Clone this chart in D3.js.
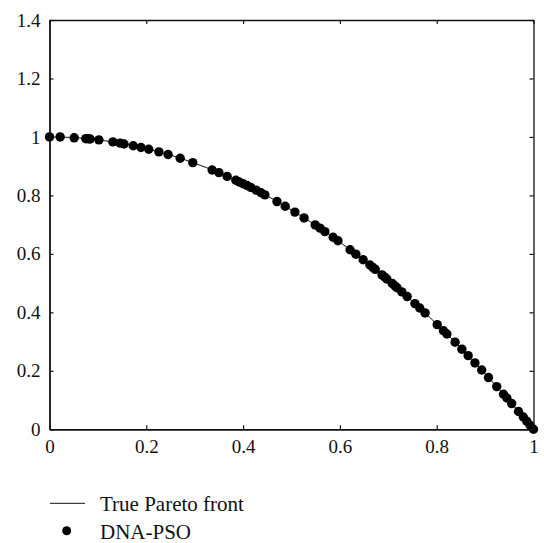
<!DOCTYPE html>
<html><head><meta charset="utf-8">
<script src="https://cdn.jsdelivr.net/npm/d3@7"></script>
<style>body{margin:0;background:#fff}svg{display:block}svg text{font-family:'Liberation Serif','Times New Roman','DejaVu Serif',serif !important;fill:#111}</style>
</head><body>
<svg id="c" width="544" height="543"></svg>
<script>
const xTicks = [0, 0.2, 0.4, 0.6, 0.8, 1];
const yTicks = [0, 0.2, 0.4, 0.6, 0.8, 1, 1.2, 1.4];
const xTickLabels = ["0", "0.2", "0.4", "0.6", "0.8", "1"];
const yTickLabels = ["0", "0.2", "0.4", "0.6", "0.8", "1", "1.2", "1.4"];
const legendLabels = ["True Pareto front", "DNA-PSO"];

// True Pareto front
const frontX = [0, 0.05, 0.1, 0.15, 0.2, 0.25, 0.3, 0.35, 0.4, 0.45, 0.5, 0.55, 0.6, 0.65, 0.7, 0.75, 0.8, 0.85, 0.9, 0.95, 1];
const frontY = [1, 0.998, 0.99, 0.978, 0.96, 0.938, 0.91, 0.878, 0.84, 0.798, 0.75, 0.698, 0.64, 0.578, 0.51, 0.438, 0.36, 0.278, 0.19, 0.098, 0];

// DNA-PSO points
const psoX = [0.000, 0.022, 0.051, 0.075, 0.080, 0.084, 0.102, 0.131, 0.146, 0.154, 0.173, 0.189, 0.205, 0.226, 0.245, 0.270, 0.296, 0.336, 0.350, 0.367, 0.385, 0.392, 0.400, 0.408, 0.416, 0.427, 0.437, 0.445, 0.470, 0.487, 0.507, 0.526, 0.549, 0.559, 0.569, 0.586, 0.596, 0.621, 0.633, 0.648, 0.662, 0.668, 0.673, 0.687, 0.693, 0.697, 0.708, 0.714, 0.718, 0.728, 0.739, 0.755, 0.765, 0.776, 0.801, 0.814, 0.821, 0.838, 0.852, 0.865, 0.879, 0.893, 0.907, 0.924, 0.938, 0.945, 0.955, 0.969, 0.979, 0.986, 0.993, 1.000];
const psoY = [1.000, 1.000, 0.997, 0.994, 0.994, 0.993, 0.990, 0.983, 0.979, 0.976, 0.970, 0.964, 0.958, 0.949, 0.940, 0.927, 0.912, 0.887, 0.878, 0.865, 0.852, 0.846, 0.840, 0.834, 0.827, 0.818, 0.809, 0.802, 0.779, 0.763, 0.743, 0.723, 0.699, 0.688, 0.676, 0.657, 0.645, 0.614, 0.599, 0.580, 0.562, 0.554, 0.547, 0.528, 0.520, 0.514, 0.499, 0.490, 0.484, 0.470, 0.454, 0.430, 0.415, 0.398, 0.358, 0.337, 0.326, 0.298, 0.274, 0.252, 0.227, 0.203, 0.177, 0.146, 0.120, 0.107, 0.088, 0.061, 0.042, 0.028, 0.014, 0.000];

const L = 49.5, R = 533.5, T = 20, B = 429.3;
const FONT = "'Liberation Serif','Times New Roman','DejaVu Serif',serif";
const svg = d3.select("#c");
const x = d3.scaleLinear().domain([0, 1]).range([L, R]);
const y = d3.scaleLinear().domain([0, 1.4]).range([B, T]);

// front line
svg.append("path")
  .datum(frontX.map((v, i) => [v, frontY[i]]))
  .attr("fill", "none").attr("stroke", "#111").attr("stroke-width", 1)
  .attr("d", d3.line().x(d => x(d[0])).y(d => y(d[1])).curve(d3.curveMonotoneX));

// points
svg.append("g").selectAll("circle")
  .data(psoX.map((v, i) => [v, psoY[i]]))
  .join("circle")
  .attr("cx", d => x(d[0])).attr("cy", d => y(d[1])).attr("r", 4.7).attr("fill", "#000");

// axes (inward ticks on all sides)
const fmtX = (d, i) => xTickLabels[i];
const fmtY = (d, i) => yTickLabels[i];
const gB = svg.append("g").attr("transform", `translate(0,${B})`)
  .call(d3.axisBottom(x).tickValues(xTicks).tickFormat(fmtX).tickSizeInner(-4).tickSizeOuter(0).tickPadding(11));
const gL = svg.append("g").attr("transform", `translate(${L},0)`)
  .call(d3.axisLeft(y).tickValues(yTicks).tickFormat(fmtY).tickSizeInner(-4).tickSizeOuter(0).tickPadding(9));
const gT = svg.append("g").attr("transform", `translate(0,${T})`)
  .call(d3.axisTop(x).tickValues(xTicks).tickFormat("").tickSizeInner(-4).tickSizeOuter(0));
const gR = svg.append("g").attr("transform", `translate(${R},0)`)
  .call(d3.axisRight(y).tickValues(yTicks).tickFormat("").tickSizeInner(-4).tickSizeOuter(0));
[gB, gL].forEach(g => { g.select(".domain").attr("stroke", "#111").attr("stroke-width", 1.8); });
[gT, gR].forEach(g => { g.select(".domain").attr("stroke", "#111").attr("stroke-width", 1.3); });
[gB, gL, gT, gR].forEach(g => {
  g.attr("font-family", FONT).attr("font-size", 19);
  g.selectAll(".tick line").attr("stroke", "#111").attr("stroke-width", 1.2);
  g.selectAll("text").attr("font-family", FONT).attr("font-size", 19).attr("fill", "#111");
});
gB.selectAll(".tick text").attr("dy", "0.68em");

// legend
const lg = svg.append("g").attr("font-family", FONT);
lg.append("line").attr("x1", 50).attr("x2", 85).attr("y1", 503.3).attr("y2", 503.3).attr("stroke", "#111").attr("stroke-width", 1);
lg.append("circle").attr("cx", 66.7).attr("cy", 530.7).attr("r", 4.5).attr("fill", "#000");
lg.selectAll("text").data(legendLabels).join("text")
  .attr("x", 100).attr("y", (d, i) => 510.7 + i * 28.6)
  .attr("font-family", FONT).attr("font-size", 21).text(d => d);
</script>
</body></html>
